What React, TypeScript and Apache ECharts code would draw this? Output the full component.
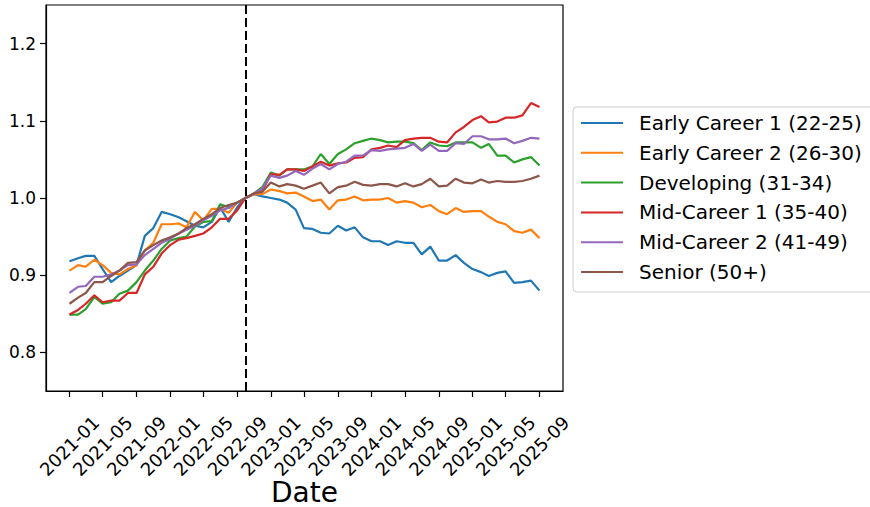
import React, { useEffect, useRef } from "react";
import * as echarts from "echarts";

// Monthly dates 2021-01 .. 2025-09
const months: string[] = (() => {
  const out: string[] = [];
  for (let y = 2021; y <= 2025; y++) {
    for (let m = 1; m <= 12; m++) {
      if (y === 2025 && m > 9) break;
      out.push(`${y}-${String(m).padStart(2, "0")}`);
    }
  }
  return out;
})();

const tickLabels = [
  "2021-01", "2021-05", "2021-09", "2022-01", "2022-05", "2022-09", "2023-01", "2023-05",
  "2023-09", "2024-01", "2024-05", "2024-09", "2025-01", "2025-05", "2025-09",
];
const yTicks = [0.8, 0.9, 1.0, 1.1, 1.2];
const baselineMonth = "2022-10";

const seriesNames = [
  "Early Career 1 (22-25)",
  "Early Career 2 (26-30)",
  "Developing (31-34)",
  "Mid-Career 1 (35-40)",
  "Mid-Career 2 (41-49)",
  "Senior (50+)",
];
const colors = ["#1f77b4", "#ff7f0e", "#2ca02c", "#d62728", "#9467bd", "#8c564b"];

const earlyCareer1 = [0.918, 0.922, 0.925, 0.925, 0.908, 0.891, 0.899, 0.906, 0.913, 0.951, 0.961, 0.982, 0.979, 0.975, 0.970, 0.964, 0.962, 0.969, 0.988, 0.969, 0.988, 1.000, 1.005, 1.002, 1.000, 0.998, 0.994, 0.985, 0.961, 0.960, 0.955, 0.954, 0.964, 0.958, 0.962, 0.949, 0.944, 0.944, 0.939, 0.944, 0.942, 0.942, 0.927, 0.937, 0.919, 0.919, 0.926, 0.916, 0.908, 0.904, 0.899, 0.903, 0.905, 0.890, 0.891, 0.893, 0.880];
const earlyCareer2 = [0.906, 0.913, 0.911, 0.920, 0.913, 0.903, 0.901, 0.908, 0.913, 0.932, 0.942, 0.966, 0.966, 0.967, 0.962, 0.982, 0.971, 0.986, 0.986, 0.981, 0.994, 1.000, 1.005, 1.005, 1.011, 1.009, 1.006, 1.007, 1.002, 0.996, 0.998, 0.985, 0.997, 0.998, 1.002, 0.997, 0.998, 0.998, 1.000, 0.994, 0.996, 0.994, 0.988, 0.991, 0.983, 0.979, 0.987, 0.982, 0.983, 0.983, 0.976, 0.969, 0.966, 0.957, 0.955, 0.959, 0.948];
const developing = [0.849, 0.849, 0.856, 0.872, 0.863, 0.865, 0.876, 0.880, 0.891, 0.906, 0.919, 0.934, 0.945, 0.948, 0.950, 0.963, 0.969, 0.970, 0.992, 0.988, 0.994, 1.000, 1.006, 1.014, 1.033, 1.029, 1.037, 1.037, 1.037, 1.041, 1.057, 1.044, 1.057, 1.063, 1.071, 1.074, 1.077, 1.075, 1.072, 1.073, 1.073, 1.071, 1.062, 1.072, 1.068, 1.067, 1.072, 1.072, 1.072, 1.065, 1.070, 1.055, 1.055, 1.046, 1.050, 1.053, 1.042];
const midCareer1 = [0.849, 0.855, 0.863, 0.874, 0.865, 0.867, 0.867, 0.877, 0.877, 0.901, 0.911, 0.928, 0.939, 0.946, 0.948, 0.951, 0.954, 0.962, 0.973, 0.973, 0.984, 1.000, 1.006, 1.009, 1.031, 1.030, 1.037, 1.037, 1.035, 1.041, 1.047, 1.042, 1.045, 1.046, 1.052, 1.053, 1.063, 1.065, 1.068, 1.066, 1.075, 1.077, 1.078, 1.078, 1.073, 1.072, 1.085, 1.092, 1.101, 1.106, 1.098, 1.099, 1.104, 1.104, 1.107, 1.123, 1.118];
const midCareer2 = [0.877, 0.885, 0.886, 0.898, 0.898, 0.901, 0.906, 0.913, 0.914, 0.926, 0.934, 0.942, 0.947, 0.954, 0.959, 0.964, 0.971, 0.977, 0.984, 0.987, 0.994, 1.000, 1.006, 1.012, 1.029, 1.026, 1.029, 1.035, 1.030, 1.038, 1.044, 1.037, 1.044, 1.047, 1.055, 1.055, 1.062, 1.061, 1.063, 1.064, 1.065, 1.070, 1.061, 1.069, 1.061, 1.061, 1.071, 1.070, 1.080, 1.080, 1.076, 1.076, 1.077, 1.071, 1.074, 1.078, 1.077];
const senior = [0.863, 0.871, 0.877, 0.891, 0.891, 0.899, 0.906, 0.916, 0.917, 0.932, 0.939, 0.945, 0.949, 0.954, 0.961, 0.966, 0.973, 0.979, 0.987, 0.991, 0.994, 1.000, 1.006, 1.008, 1.020, 1.015, 1.018, 1.016, 1.012, 1.016, 1.020, 1.006, 1.014, 1.016, 1.021, 1.017, 1.016, 1.018, 1.018, 1.015, 1.019, 1.015, 1.018, 1.025, 1.015, 1.016, 1.025, 1.020, 1.019, 1.024, 1.020, 1.022, 1.021, 1.021, 1.022, 1.025, 1.029];

const allSeries = [earlyCareer1, earlyCareer2, developing, midCareer1, midCareer2, senior];

const toTs = (s: string) => {
  const [y, m] = s.split("-").map(Number);
  return Date.UTC(y, m - 1, 1);
};
const fmt = (v: number) => {
  const d = new Date(v);
  return `${d.getUTCFullYear()}-${String(d.getUTCMonth() + 1).padStart(2, "0")}`;
};

export default function App() {
  const ref = useRef<HTMLDivElement>(null);
  useEffect(() => {
    if (!ref.current) return;
    const chart = echarts.init(ref.current, null, { renderer: "svg" });
    const ts = months.map(toTs);
    const t0 = ts[0];
    const t1 = ts[ts.length - 1];
    const pad = (t1 - t0) * 0.05;
    const tickTs = tickLabels.map(toTs);
    const font = "DejaVu Sans";

    const series: any[] = allSeries.map((vals, k) => ({
      name: seriesNames[k],
      type: "line",
      data: vals.map((v, i) => [ts[i], v]),
      symbol: "none",
      showSymbol: false,
      lineStyle: { width: 2.2, color: colors[k] },
      itemStyle: { color: colors[k] },
      emphasis: { disabled: true },
      z: 2 + k,
    }));
    series[0].markLine = {
      silent: true,
      symbol: "none",
      label: { show: false },
      lineStyle: { type: [9, 4], color: "#000", width: 2 },
      data: [{ xAxis: toTs(baselineMonth) }],
      z: 20,
    };

    chart.setOption({
      animation: false,
      textStyle: { fontFamily: font },
      grid: {
        left: 46,
        right: 307,
        top: 5,
        bottom: 116,
        show: true,
        borderColor: "#000",
        borderWidth: 1.2,
        containLabel: false,
        outerBoundsMode: "none",
      },
      xAxis: {
        type: "value",
        min: t0 - pad,
        max: t1 + pad,
        splitLine: { show: false },
        axisLine: { show: true, lineStyle: { color: "#000", width: 1.2 } },
        axisTick: { show: true, customValues: tickTs, length: 6, lineStyle: { color: "#000", width: 1.2 } },
        axisLabel: {
          customValues: tickTs,
          formatter: (v: number) => fmt(v),
          rotate: 45,
          align: "center",
          verticalAlign: "middle",
          margin: 55,
          fontSize: 18,
          color: "#000",
          fontFamily: font,
        },
        name: "Date",
        nameLocation: "middle",
        nameGap: 87,
        nameMoveOverlap: false,
        nameTextStyle: { fontSize: 28, color: "#000", fontFamily: font },
      },
      yAxis: {
        type: "value",
        min: 0.75,
        max: 1.25,
        splitLine: { show: false },
        axisLine: { show: true, lineStyle: { color: "#000", width: 1.2 } },
        axisTick: { show: true, customValues: yTicks, length: 6, lineStyle: { color: "#000", width: 1.2 } },
        axisLabel: {
          customValues: yTicks,
          formatter: (v: number) => v.toFixed(1),
          fontSize: 17,
          margin: 10,
          color: "#000",
          fontFamily: font,
        },
      },
      legend: {
        orient: "vertical",
        left: 573,
        top: 107,
        padding: [6, 30, 10, 8],
        itemGap: 9.8,
        itemWidth: 42,
        itemHeight: 2,
        icon: "rect",
        borderColor: "#cccccc",
        borderWidth: 1,
        borderRadius: 4,
        backgroundColor: "rgba(255,255,255,0.8)",
        data: seriesNames,
        textStyle: { fontSize: 20, color: "#000", padding: [0, 0, 0, 11], lineHeight: 20, fontFamily: font },
      },
      series,
    });
    return () => chart.dispose();
  }, []);
  return (
    <div
      ref={ref}
      style={{ position: "fixed", left: 0, top: 0, width: 870, height: 507, background: "#fff" }}
    />
  );
}
